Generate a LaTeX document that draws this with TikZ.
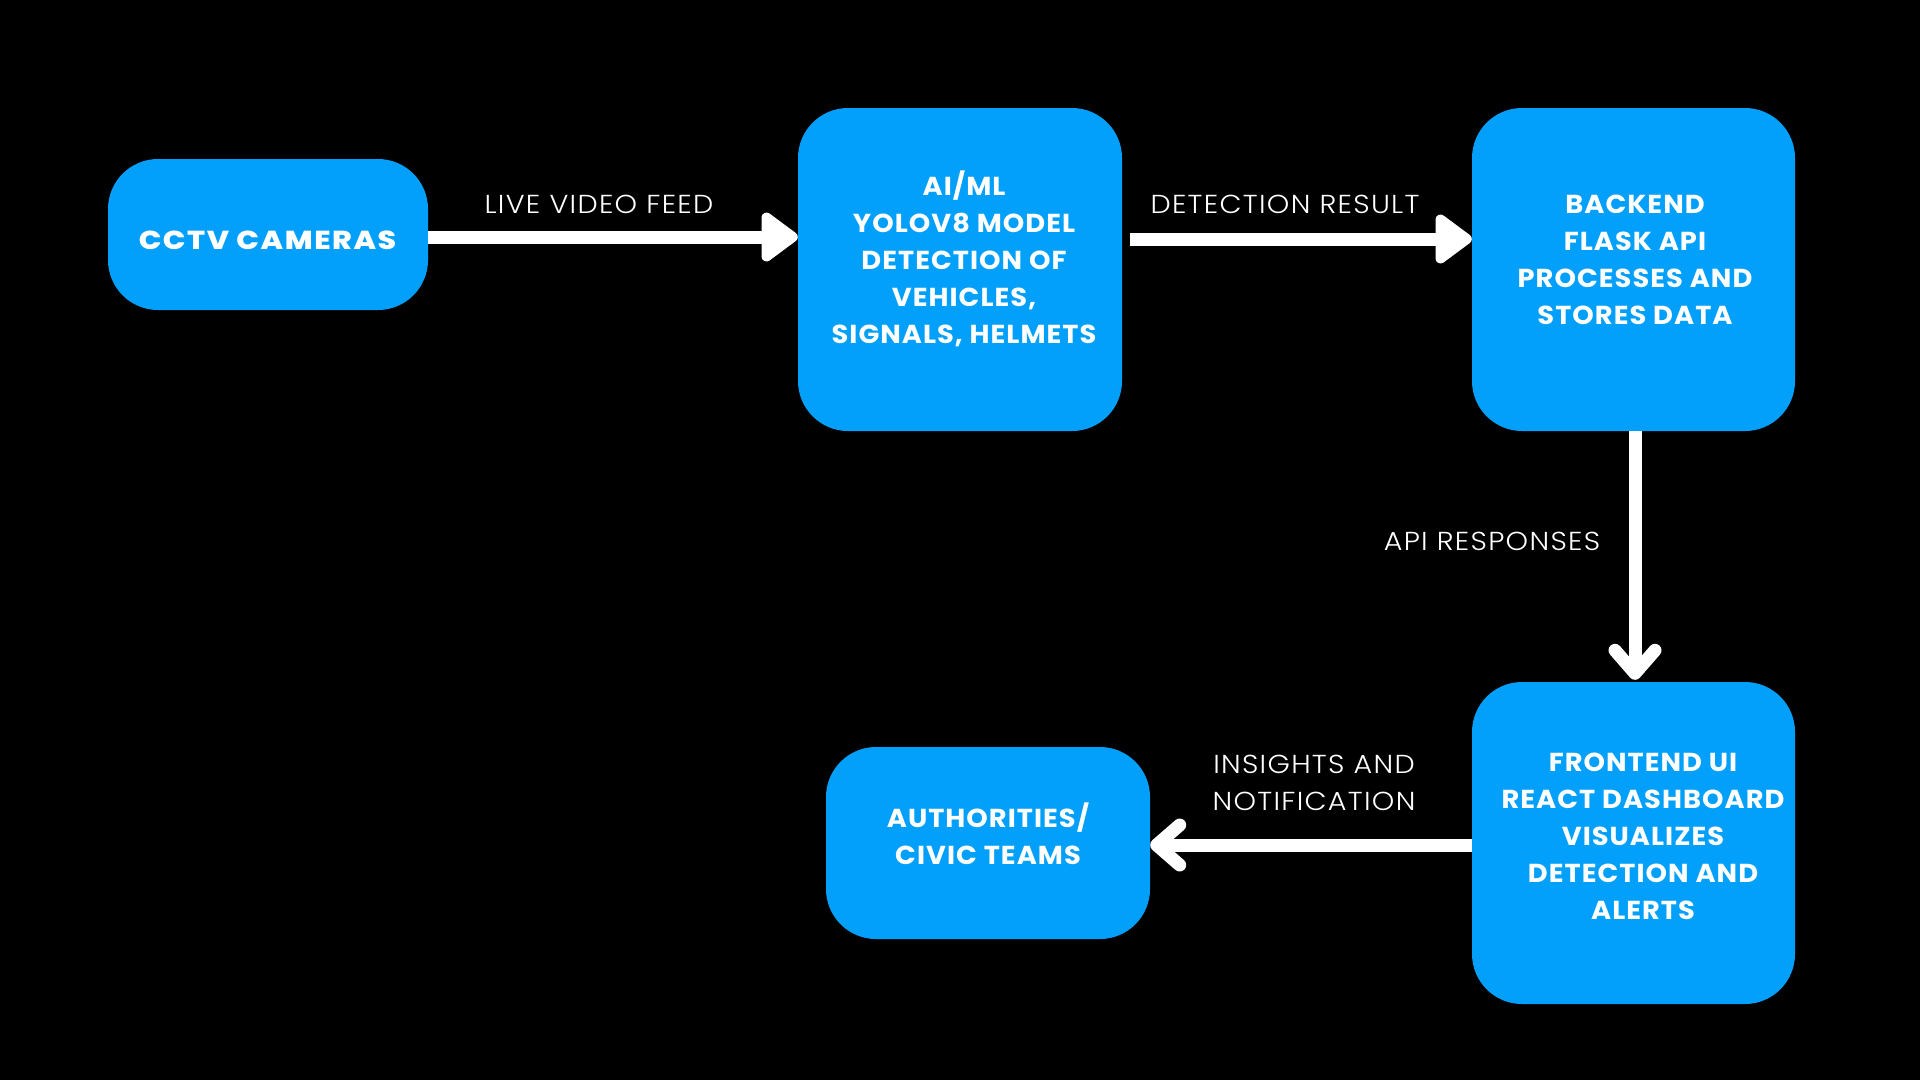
\documentclass[tikz,border=0pt]{standalone}
\usepackage{fontspec}
\setmainfont{Poppins}
\newfontfamily\boxfont{Poppins}[UprightFont=* Bold, FakeStretch=1.05, LetterSpace=4]
\newfontfamily\cctvfont{Poppins}[UprightFont=* ExtraBold, FakeStretch=1.15, LetterSpace=6]
\newfontfamily\lightfont{Poppins}[UprightFont=* Light, FakeStretch=1.1, LetterSpace=5]
\usetikzlibrary{arrows.meta}
\definecolor{boxblue}{RGB}{2,160,250}
\begin{document}
\begin{tikzpicture}[x=1pt,y=-1pt,
  box/.style={rectangle, rounded corners=50pt, fill=boxblue, draw=none, inner sep=0pt},
  boxtext/.style={text=white, align=center, font=\boxfont\fontsize{26}{37}\selectfont, inner sep=0pt},
  cctvtext/.style={text=white, align=center, font=\cctvfont\fontsize{26}{37}\selectfont, inner sep=0pt},
  lbl/.style={text=white, align=center, font=\lightfont\fontsize{26}{37}\selectfont, inner sep=0pt},
  fat/.style={draw=white, line width=13pt},
  tri/.style={fat, -{Triangle[round, length=40pt, width=56pt]}},
  barb/.style={fat, -{Straight Barb[round, length=23pt, width=40pt]}}
]
\fill[black] (0,0) rectangle (1920,1080);
\useasboundingbox (0,0) rectangle (1920,1080);

% boxes
\node[box, minimum width=320pt, minimum height=151pt] (b1) at (268,234.5) {};
\node[box, minimum width=324pt, minimum height=323pt] (b2) at (960,269.5) {};
\node[box, minimum width=323pt, minimum height=323pt] (b3) at (1633.5,269.5) {};
\node[box, minimum width=323pt, minimum height=322pt] (b4) at (1633.5,843) {};
\node[box, minimum width=324pt, minimum height=192pt] (b5) at (988,843) {};

% box texts
\node[cctvtext] (t1) at (267.5,240) {CCTV CAMERAS};
\node[boxtext] (t2) at (964,259) {AI/ML\\YOLOV8 MODEL\\DETECTION OF\\VEHICLES,\\SIGNALS, HELMETS};
\node[boxtext] (t3) at (1635,260) {BACKEND\\FLASK API\\PROCESSES AND\\STORES DATA};
\node[boxtext] (t4) at (1643,836.5) {FRONTEND UI\\REACT DASHBOARD\\VISUALIZES\\DETECTION AND\\ALERTS};
\node[boxtext] (t5) at (988,833.5) {AUTHORITIES/\\CIVIC TEAMS};

% connectors
\draw[tri] ([yshift=-2.5pt]b1.east) -- ([yshift=32.5pt]b2.west);
\draw[tri] ([xshift=8pt,yshift=30.5pt]b2.east) -- ([yshift=30.5pt]b3.west);
\draw[barb] ([xshift=1.5pt]b3.south) -- ([xshift=1.5pt,yshift=2pt]b4.north);
\draw[barb] ([yshift=-2pt]b4.west) -- ([yshift=-2pt]b5.east);

% labels
\node[lbl] (l1) at (599,204) {LIVE VIDEO FEED};
\node[lbl] (l2) at (1285,204) {DETECTION RESULT};
\node[lbl] (l3) at (1492,541) {API RESPONSES};
\node[lbl] (l4) at (1314,783) {INSIGHTS AND\\NOTIFICATION};
\end{tikzpicture}
\end{document}
